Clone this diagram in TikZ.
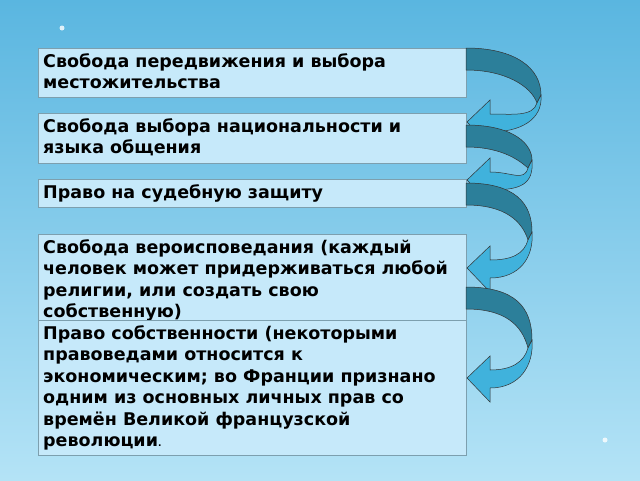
\documentclass[tikz,border=0pt]{standalone}
\usepackage{fontspec}
\setmainfont{DejaVu Sans}
\begin{document}
\begin{tikzpicture}[x=1pt,y=-1pt,
  box/.style={draw=gray!70!cyan,fill=boxc,line width=0.8pt,anchor=north west,inner sep=0pt,minimum width=428pt},
  txt/.style={anchor=north west,align=left,inner sep=5pt,font=\fontsize{17.5}{21.5}\selectfont\bfseries},
  dark/.style={fill=darkc,draw=black!80,line width=0.5pt},
  light/.style={fill=lightc,draw=black!80,line width=0.5pt}]
\definecolor{boxc}{HTML}{C6E9FA}
\definecolor{darkc}{HTML}{2C7F9A}
\definecolor{lightc}{HTML}{40B2DC}
\definecolor{bgtop}{HTML}{5AB6E0}
\definecolor{bgbot}{HTML}{B4E3F6}

% background
\shade[top color=bgtop,bottom color=bgbot] (0,0) rectangle (640,480);
\useasboundingbox (0,0) rectangle (640,480);
\foreach \a in {15,30,45,60}
  \draw[white,opacity=0.15,line width=6pt] (230,-40) -- ++(\a-90:300);
\fill[white,opacity=0.8] (62,28) circle (2.5);
\fill[white,opacity=0.8] (605,440) circle (2.5);

% boxes
\node[box,minimum height=49pt] (b1) at (38,48) {};
\node[box,minimum height=50pt] (b2) at (38,113) {};
\node[box,minimum height=28pt] (b3) at (38,179) {};
\node[box,minimum height=90pt] (b4) at (38,234) {};
\node[txt] (t4) at (b4.north west) {Свобода вероисповедания (каждый\\человек может придерживаться любой\\религии, или создать свою\\собственную)};
\node[box,minimum height=135pt] (b5) at (38,320) {};
\node[txt] (t1) at (b1.north west) {Свобода передвижения и выбора\\местожительства};
\node[txt] (t2) at (b2.north west) {Свобода выбора национальности и\\языка общения};
\node[txt] (t3) at (b3.north west) {Право на судебную защиту};
\node[txt] (t5) at (b5.north west) {Право собственности (некоторыми\\правоведами относится к\\экономическим; во Франции признано\\одним из основных личных прав со\\времён Великой французской\\революции{\small.}};

% arrows: top, right x, mid, tip
\foreach \t/\xr/\m/\tip in {48/541/95/122, 125/532/160/180, 183/532/232/268, 287/532/340/378}{
  \draw[dark] (466,\t) .. controls (515,\t) and (\xr,\t+20) .. (\xr,\m)
    -- (\xr-4,\m+8) .. controls (\xr-10,\t+38) and (505,\t+22) .. (466,\t+22) -- cycle;
  \draw[light] (\xr,\m) .. controls (\xr+2,\m+25) and (520,\tip+10) .. (490,\tip+10)
    -- (490,\tip+24) -- (467,\tip) -- (490,\tip-22) -- (490,\tip-8)
    .. controls (512,\tip-8) and (\xr-8,\m+22) .. (\xr-4,\m+8) -- cycle;
}
\end{tikzpicture}
\end{document}
